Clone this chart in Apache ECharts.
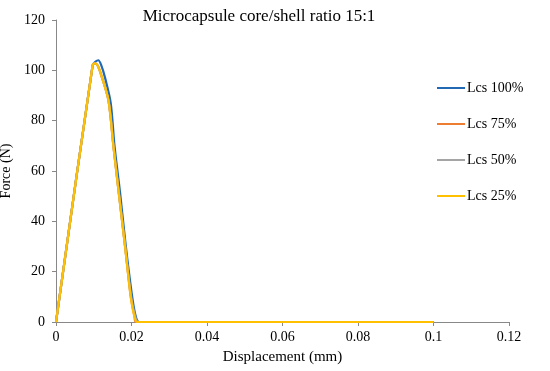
<!DOCTYPE html>
<html>
<head>
<meta charset="utf-8">
<script src="https://cdn.jsdelivr.net/npm/echarts@6/dist/echarts.min.js"></script>
<style>html,body{margin:0;padding:0;background:#fff}#c{width:550px;height:371px}</style>
</head>
<body>
<div id="c"></div>
<script>
const seriesNames = ['Lcs 100%', 'Lcs 75%', 'Lcs 50%', 'Lcs 25%'];
const colors = ['#2169b3', '#ed7d31', '#a5a5a5', '#ffc000'];

const dispBlue  = [0, 0.0097, 0.0105, 0.0112, 0.012, 0.013, 0.0145, 0.0155, 0.017, 0.0185, 0.0200, 0.0210, 0.0220, 0.03, 0.05, 0.07, 0.1];
const forceBlue = [0, 102,    103.5,  104,    102,   97,    87,     70,     51,    30,     12,     3,      0,      0,    0,    0,    0];

const dispOrange  = [0, 0.0097, 0.0103, 0.011, 0.012, 0.0139, 0.0152, 0.0165, 0.0183, 0.0198, 0.0208, 0.0212, 0.03, 0.05, 0.07, 0.1];
const forceOrange = [0, 102,    102.8,  102,   98,    88,     70,     53,     30,     10,     2,      0,      0,    0,    0,    0];

const dispGray  = [0, 0.0097, 0.0103, 0.011, 0.012, 0.0139, 0.0152, 0.0165, 0.0183, 0.0199, 0.0210, 0.0218, 0.03, 0.05, 0.07, 0.1];
const forceGray = [0, 102,    102.8,  102,   98,    88,     70,     53,     30,     10,     2,      0,      0,    0,    0,    0];

const dispYellow  = [0, 0.0097, 0.0103, 0.011, 0.012, 0.0139, 0.0152, 0.0165, 0.0183, 0.0198, 0.0208, 0.0215, 0.03, 0.05, 0.07, 0.1];
const forceYellow = [0, 102,    102.8,  102,   98,    88,     70,     53,     30,     10,     2,      0,      0,    0,    0,    0];

const xs = [dispBlue, dispOrange, dispGray, dispYellow];
const ys = [forceBlue, forceOrange, forceGray, forceYellow];

const font = '"Liberation Serif", "DejaVu Serif", serif';
const chart = echarts.init(document.getElementById('c'));
chart.setOption({
  backgroundColor: '#fff',
  animation: false,
  title: {
    text: 'Microcapsule core/shell ratio 15:1',
    left: 254, top: 3, textAlign: 'center',
    textStyle: { fontFamily: font, fontSize: 17, fontWeight: 'normal', color: '#000' }
  },
  legend: {
    orient: 'vertical', left: 432, top: 76, itemGap: 22,
    itemWidth: 28, itemHeight: 14,
    icon: 'path://M0,6 L28,6 L28,8 L0,8 Z',
    textStyle: { fontFamily: font, fontSize: 14, color: '#000', padding: [0,0,0,-3] },
    data: seriesNames
  },
  grid: { left: 56, right: 41, top: 20, bottom: 49, containLabel: false, outerBoundsMode: 'none' },
  xAxis: {
    type: 'value', min: 0, max: 0.12, interval: 0.02,
    name: 'Displacement (mm)', nameLocation: 'middle', nameGap: 28,
    nameTextStyle: { fontFamily: font, fontSize: 15, color: '#000' },
    axisLine: { lineStyle: { color: '#888', width: 1 } },
    axisTick: { show: true, length: 4, inside: false, lineStyle: { color: '#888' } },
    axisLabel: { fontFamily: font, fontSize: 14, color: '#000', margin: 8,
      formatter: v => String(+v.toFixed(2)) },
    splitLine: { show: false }
  },
  yAxis: {
    type: 'value', min: 0, max: 120, interval: 20,
    name: 'Force (N)', nameLocation: 'middle', nameGap: 39, nameRotate: 90,
    nameTextStyle: { fontFamily: font, fontSize: 14, color: '#000' },
    axisLine: { show: true, lineStyle: { color: '#888', width: 1 } },
    axisTick: { show: true, length: 4, inside: false, lineStyle: { color: '#888' } },
    axisLabel: { fontFamily: font, fontSize: 14, color: '#000', margin: 11 },
    splitLine: { show: false }
  },
  series: seriesNames.map((n, i) => ({
    name: n, type: 'line', showSymbol: false, smooth: 0.3,
    color: colors[i],
    lineStyle: { width: 2.2, color: colors[i] },
    data: xs[i].map((x, j) => [x, ys[i][j]])
  }))
});
</script>
</body>
</html>
